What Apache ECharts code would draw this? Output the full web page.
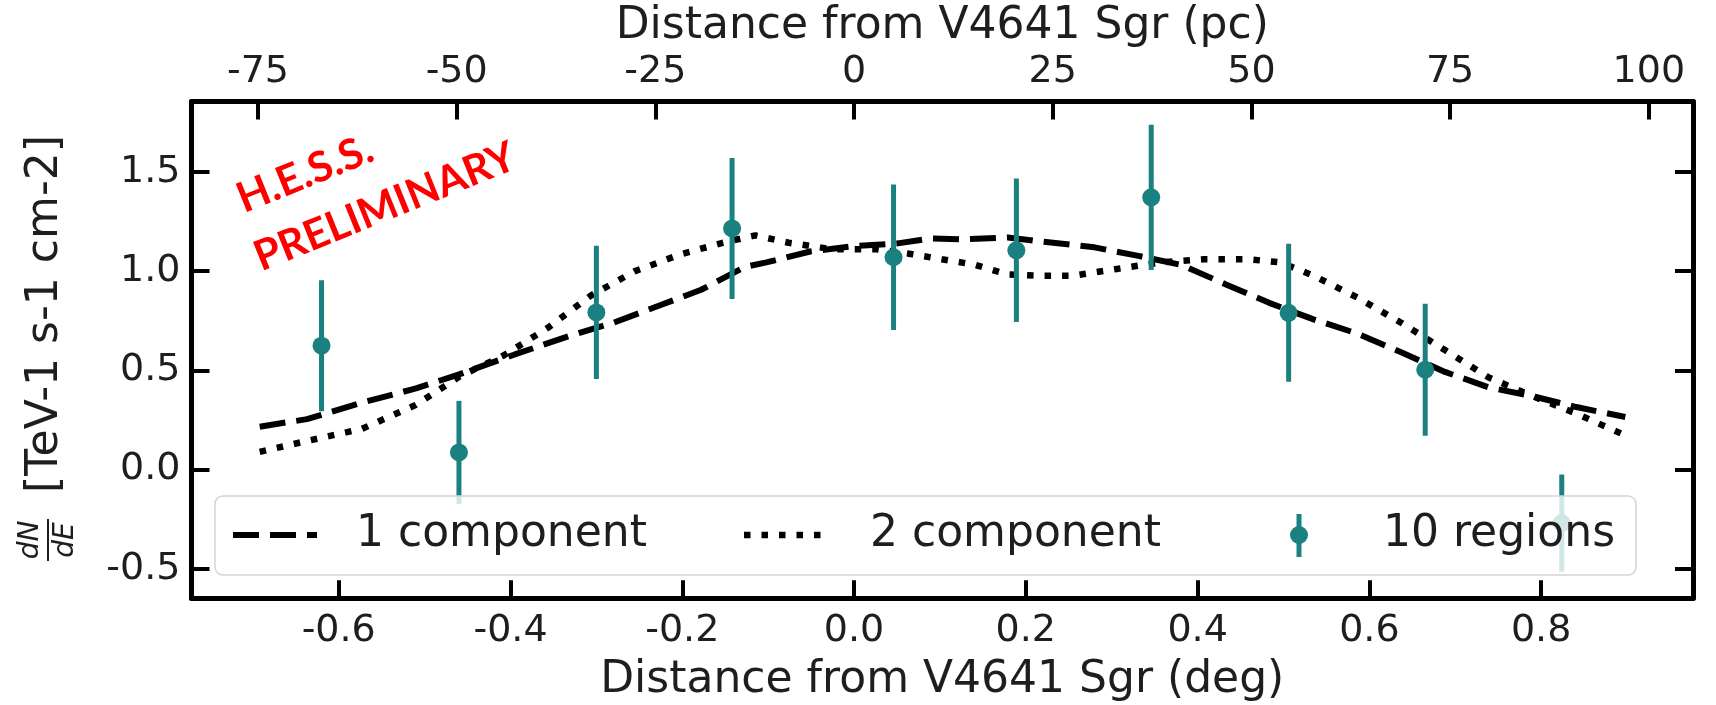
<!DOCTYPE html>
<html>
<head>
<meta charset="utf-8">
<script src="https://cdn.jsdelivr.net/npm/echarts@6/dist/echarts.min.js"></script>
<style>
html,body{margin:0;padding:0;background:#fff;}
#chart{width:1716px;height:705px;}
</style>
</head>
<body>
<div id="chart"></div>
<script>
// ---------------- data ----------------
const regionX   = [-0.620, -0.460, -0.300, -0.142, 0.046, 0.189, 0.346, 0.506, 0.665, 0.824];
const regionY   = [0.624, 0.086, 0.792, 1.215, 1.070, 1.105, 1.372, 0.790, 0.503, -0.270];
const regionErr = [0.330, 0.260, 0.336, 0.355, 0.367, 0.362, 0.366, 0.348, 0.333, 0.245];

const comp1X = [-0.692,-0.637,-0.573,-0.510,-0.459,-0.395,-0.331,-0.280,-0.229,-0.178,-0.127,-0.102,-0.051,0.000,0.051,0.089,0.128,0.179,0.217,0.280,0.331,0.382,0.433,0.484,0.535,0.586,0.637,0.688,0.739,0.790,0.841,0.898];
const comp1Y = [0.216,0.254,0.337,0.409,0.481,0.580,0.674,0.740,0.823,0.906,1.021,1.044,1.099,1.126,1.140,1.165,1.160,1.170,1.150,1.120,1.077,1.030,0.933,0.839,0.757,0.685,0.591,0.492,0.414,0.370,0.315,0.265];

const comp2X = [-0.692,-0.637,-0.573,-0.510,-0.459,-0.408,-0.357,-0.306,-0.255,-0.204,-0.153,-0.115,-0.076,-0.025,0.026,0.064,0.102,0.140,0.179,0.217,0.255,0.306,0.357,0.408,0.459,0.497,0.535,0.586,0.637,0.688,0.739,0.790,0.841,0.898];
const comp2Y = [0.089,0.144,0.205,0.326,0.470,0.575,0.713,0.878,1.000,1.082,1.143,1.180,1.143,1.110,1.110,1.088,1.060,1.033,0.983,0.977,0.977,1.011,1.044,1.060,1.060,1.044,0.977,0.867,0.740,0.602,0.464,0.370,0.282,0.172];

const degTicks = [-0.6, -0.4, -0.2, 0.0, 0.2, 0.4, 0.6, 0.8];
const pcTicks  = [-75, -50, -25, 0, 25, 50, 75, 100];
const yTicks   = [-0.5, 0.0, 0.5, 1.0, 1.5];

const seriesNames = ['1 component', '2 component', '10 regions'];
const xTitleBottom = 'Distance from V4641 Sgr (deg)';
const xTitleTop = 'Distance from V4641 Sgr (pc)';
const yUnitLabel = '[TeV-1 s-1 cm-2]';
const watermark = ['H.E.S.S.', 'PRELIMINARY'];

// ---------------- layout ----------------
const pcPerDeg = 108.07;
const xMin = -0.7714, xMax = 0.9768;
const yMin = -0.649, yMax = 1.855;
const teal = '#1a8080';
const FONT = 'DejaVu Sans';
const ink = '#1e1e1e';
const gridL = 191.5, gridR = 23, W = 1716;

const zip = (a, b) => a.map((v, i) => [v, b[i]]);

const chart = echarts.init(document.getElementById('chart'), null, {renderer: 'canvas'});

const axisLineStyle = {color: '#000', width: 5};
const tickStyle = {color: '#000', width: 4};

const option = {
  animation: false,
  backgroundColor: '#fff',
  grid: {left: gridL, right: gridR, top: 101.5, bottom: 106.7, containLabel: false, outerBoundsMode: 'none'},
  xAxis: [
    {
      type: 'value', position: 'bottom', min: xMin, max: xMax,
      axisLine: {show: true, onZero: false, lineStyle: axisLineStyle},
      axisTick: {show: true, inside: true, length: 18, lineStyle: tickStyle, customValues: degTicks},
      axisLabel: {customValues: degTicks, formatter: v => v.toFixed(1), fontSize: 38, fontFamily: FONT, color: ink, margin: 14},
      splitLine: {show: false},
      name: xTitleBottom, nameLocation: 'middle', nameGap: 60,
      nameTextStyle: {fontSize: 44, fontFamily: FONT, color: ink, lineHeight: 44}
    },
    {
      type: 'value', position: 'top', min: xMin * pcPerDeg, max: xMax * pcPerDeg,
      axisLine: {show: true, onZero: false, lineStyle: axisLineStyle},
      axisTick: {show: true, inside: true, length: 18, lineStyle: tickStyle, customValues: pcTicks},
      axisLabel: {customValues: pcTicks, formatter: v => String(Math.round(v)), fontSize: 38, fontFamily: FONT, color: ink, margin: 10},
      splitLine: {show: false}
    }
  ],
  yAxis: [
    {
      type: 'value', position: 'left', min: yMin, max: yMax,
      axisLine: {show: true, onZero: false, lineStyle: axisLineStyle},
      axisTick: {show: true, inside: true, length: 18, lineStyle: tickStyle, customValues: yTicks},
      axisLabel: {customValues: yTicks, formatter: v => v.toFixed(1), fontSize: 38, fontFamily: FONT, color: ink, margin: 11},
      splitLine: {show: false}
    },
    {
      type: 'value', position: 'right', min: yMin, max: yMax,
      axisLine: {show: true, onZero: false, lineStyle: axisLineStyle},
      axisTick: {show: true, inside: true, length: 18, lineStyle: tickStyle, customValues: yTicks},
      axisLabel: {show: false},
      splitLine: {show: false}
    }
  ],
  series: [
    {
      name: seriesNames[0], type: 'line', xAxisIndex: 0, yAxisIndex: 0,
      data: zip(comp1X, comp1Y), showSymbol: false, symbol: 'none', z: 3,
      lineStyle: {color: '#000', width: 6, type: [26, 11], cap: 'butt'}
    },
    {
      name: seriesNames[1], type: 'line', xAxisIndex: 0, yAxisIndex: 0,
      data: zip(comp2X, comp2Y), showSymbol: false, symbol: 'none', z: 3,
      lineStyle: {color: '#000', width: 6.5, type: [6.5, 11], cap: 'butt'}
    },
    {
      name: seriesNames[2] + ' err', type: 'custom', xAxisIndex: 0, yAxisIndex: 0, z: 4,
      data: regionX.map((x, i) => [x, regionY[i], regionErr[i]]),
      renderItem: (params, api) => {
        const x = api.value(0), y = api.value(1), e = api.value(2);
        const p1 = api.coord([x, y - e]);
        const p2 = api.coord([x, y + e]);
        return {type: 'line', shape: {x1: p1[0], y1: p1[1], x2: p2[0], y2: p2[1]},
                style: {stroke: teal, lineWidth: 5}};
      }
    },
    {
      name: seriesNames[2], type: 'scatter', xAxisIndex: 0, yAxisIndex: 0, z: 5,
      data: zip(regionX, regionY), symbol: 'circle', symbolSize: 18,
      itemStyle: {color: teal, opacity: 1}
    }
  ],
  graphic: [
    // top axis title
    {type: 'text', x: (gridL + (W - gridR)) / 2, y: 27,
     style: {text: xTitleTop, align: 'center', verticalAlign: 'middle', font: '44px "DejaVu Sans"', fill: ink}},
    // y axis label
    {type: 'group', x: 46, y: 314, rotation: Math.PI / 2, children: [
      {type: 'text', style: {text: yUnitLabel, x: 0, y: 0, align: 'center', verticalAlign: 'middle', font: '44px "DejaVu Sans"', fill: ink}}
    ]},
    {type: 'group', x: 48, y: 540, rotation: Math.PI / 2, children: [
      {type: 'text', style: {text: 'dN', x: 0, y: -17, align: 'center', verticalAlign: 'middle', font: 'italic 28px "DejaVu Sans"', fill: ink}},
      {type: 'line', shape: {x1: -21, y1: 0, x2: 21, y2: 0}, style: {stroke: ink, lineWidth: 2}},
      {type: 'text', style: {text: 'dE', x: 0, y: 18, align: 'center', verticalAlign: 'middle', font: 'italic 28px "DejaVu Sans"', fill: ink}}
    ]},
    // watermark
    {type: 'text', x: 305, y: 174, rotation: 22 * Math.PI / 180, z: 50,
     style: {text: watermark[0], align: 'center', verticalAlign: 'middle', font: 'bold 42px Lato', fill: '#ff0000'}},
    {type: 'text', x: 385, y: 207, rotation: 22 * Math.PI / 180, z: 50,
     style: {text: watermark[1], align: 'center', verticalAlign: 'middle', font: 'bold 42px Lato', fill: '#ff0000'}},
    // legend
    {type: 'group', z: 100, children: [
      {type: 'rect', z: 100, shape: {x: 215, y: 496, width: 1421, height: 79, r: 8},
       style: {fill: 'rgba(255,255,255,0.8)', stroke: '#d4d4d4', lineWidth: 1.5}},
      {type: 'line', z: 101, shape: {x1: 233, y1: 535, x2: 317, y2: 535},
       style: {stroke: '#000', lineWidth: 6, lineDash: [26, 11]}},
      {type: 'text', z: 101, style: {text: seriesNames[0], x: 356, y: 535, align: 'left', verticalAlign: 'middle', font: '44px "DejaVu Sans"', fill: ink}},
      {type: 'line', z: 101, shape: {x1: 744, y1: 535, x2: 828, y2: 535},
       style: {stroke: '#000', lineWidth: 6.5, lineDash: [6.5, 11]}},
      {type: 'text', z: 101, style: {text: seriesNames[1], x: 870, y: 535, align: 'left', verticalAlign: 'middle', font: '44px "DejaVu Sans"', fill: ink}},
      {type: 'line', z: 101, shape: {x1: 1299, y1: 514, x2: 1299, y2: 557},
       style: {stroke: teal, lineWidth: 5}},
      {type: 'circle', z: 102, shape: {cx: 1299, cy: 535, r: 9}, style: {fill: teal}},
      {type: 'text', z: 101, style: {text: seriesNames[2], x: 1383, y: 535, align: 'left', verticalAlign: 'middle', font: '44px "DejaVu Sans"', fill: ink}}
    ]}
  ]
};
chart.setOption(option);
</script>
</body>
</html>
